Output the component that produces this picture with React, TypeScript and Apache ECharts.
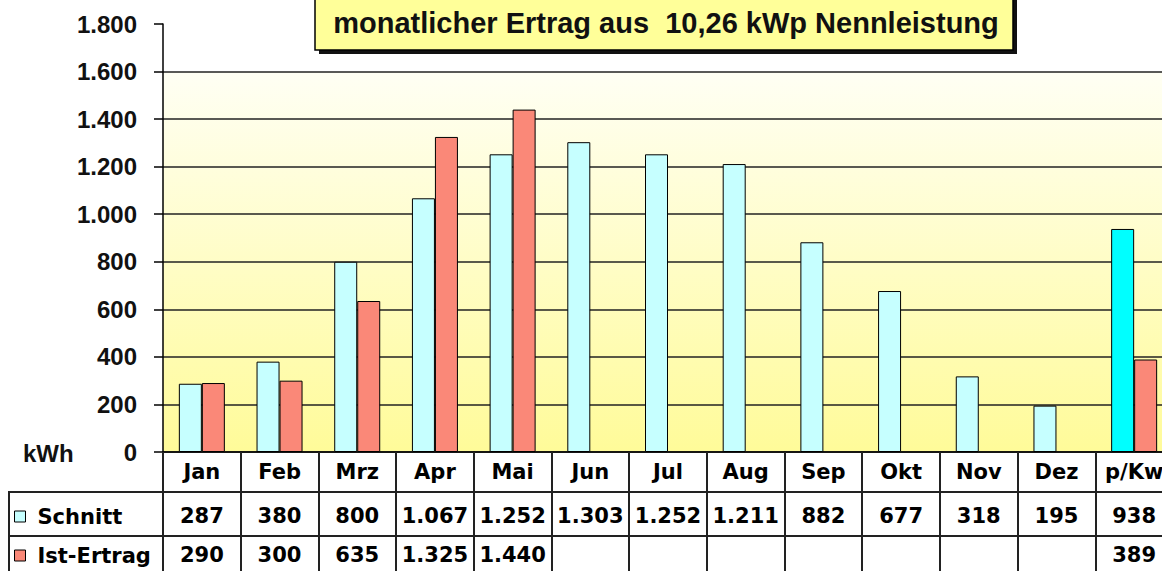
import React, { useEffect, useRef } from 'react';
import * as echarts from 'echarts';

const categories = ['Jan', 'Feb', 'Mrz', 'Apr', 'Mai', 'Jun', 'Jul', 'Aug', 'Sep', 'Okt', 'Nov', 'Dez', 'p/Kw'];
const schnitt: number[] = [287, 380, 800, 1067, 1252, 1303, 1252, 1211, 882, 677, 318, 195, 938];
const istErtrag: (number | null)[] = [290, 300, 635, 1325, 1440, null, null, null, null, null, null, null, 389];
const seriesNames = ['Schnitt', 'Ist-Ertrag'];
const highlightCategory = 'p/Kw';
const yMin = 0;
const yMax = 1800;
const yStep = 200;
const backgroundTop = 1600;
const titleText = 'monatlicher Ertrag aus  10,26 kWp Nennleistung';
const unitText = 'kWh';

const fmt = (v: number | null | undefined) =>
  v == null ? '' : String(v).replace(/\B(?=(\d{3})+(?!\d))/g, '.');

const tableFont = {
  fontFamily: 'DejaVu Sans',
  fontWeight: 'bold' as const,
  fontSize: 21,
  color: '#000',
};

export default function App() {
  const ref = useRef<HTMLDivElement>(null);
  useEffect(() => {
    if (!ref.current) return;
    const chart = echarts.init(ref.current, undefined, { renderer: 'svg' });
    const whiteFrac = (yMax - backgroundTop) / (yMax - yMin);
    const option: any = {
      animation: false,
      backgroundColor: '#fff',
      grid: {
        left: 163,
        right: -11,
        top: 24,
        bottom: 119,
        containLabel: false,
        outerBoundsMode: 'none',
        show: true,
        borderWidth: 0,
        backgroundColor: new echarts.graphic.LinearGradient(0, 0, 0, 1, [
          { offset: 0, color: '#ffffff' },
          { offset: whiteFrac, color: '#ffffff' },
          { offset: whiteFrac + 0.001, color: '#FFFFF4' },
          { offset: 1, color: '#FFFB99' },
        ]),
      },
      legend: {
        orient: 'vertical',
        left: 14,
        top: 506,
        padding: 0,
        itemGap: 18,
        icon: 'rect',
        itemWidth: 11,
        itemHeight: 11,
        itemStyle: { borderColor: '#000', borderWidth: 1 },
        textStyle: { ...tableFont, lineHeight: 21, padding: [0, 0, 0, 7] },
        data: seriesNames,
      },
      xAxis: [
        {
          type: 'category',
          position: 'bottom',
          data: categories,
          axisLine: { show: true, lineStyle: { color: '#000', width: 1.5 } },
          axisTick: { show: true, length: 119, lineStyle: { color: '#222', width: 2 } },
          axisLabel: { interval: 0, margin: 20, verticalAlign: 'middle', ...tableFont },
        },
        {
          type: 'category',
          position: 'bottom',
          offset: 0,
          data: categories,
          axisLine: { show: false },
          axisTick: { show: false },
          axisLabel: {
            interval: 0,
            margin: 64,
            verticalAlign: 'middle',
            ...tableFont,
            formatter: (_v: string, i: number) => fmt(schnitt[i]),
          },
        },
        {
          type: 'category',
          position: 'bottom',
          offset: 0,
          data: categories,
          axisLine: { show: false },
          axisTick: { show: false },
          axisLabel: {
            interval: 0,
            margin: 103,
            verticalAlign: 'middle',
            ...tableFont,
            formatter: (_v: string, i: number) => fmt(istErtrag[i]),
          },
        },
      ],
      yAxis: {
        type: 'value',
        min: yMin,
        max: yMax,
        interval: yStep,
        axisLine: { show: true, lineStyle: { color: '#000', width: 1.5 } },
        axisTick: { show: true, length: 9, lineStyle: { color: '#000', width: 1.5 } },
        axisLabel: {
          margin: 26,
          fontFamily: 'Liberation Sans',
          fontWeight: 'bold',
          fontSize: 24,
          color: '#111',
          formatter: (v: number) => fmt(v),
        },
        splitLine: { show: true, showMaxLine: false, lineStyle: { color: '#222', width: 1.5 } },
      },
      series: [
        {
          name: seriesNames[0],
          type: 'bar',
          barWidth: 23,
          barGap: '0%',
          itemStyle: { color: '#C6FFFF', borderColor: '#000', borderWidth: 1 },
          data: schnitt.map((v, i) =>
            categories[i] === highlightCategory ? { value: v, itemStyle: { color: '#00FFFF' } } : v
          ),
        },
        {
          name: seriesNames[1],
          type: 'bar',
          barWidth: 23,
          barGap: '0%',
          itemStyle: { color: '#FA8878', borderColor: '#000', borderWidth: 1 },
          data: istErtrag.map((v) => (v == null ? '-' : v)),
        },
      ],
      graphic: [
        {
          type: 'rect',
          shape: { x: 319, y: -6, width: 698, height: 60 },
          style: { fill: '#111' },
          silent: true,
        },
        {
          type: 'rect',
          shape: { x: 315, y: -10, width: 698, height: 60 },
          style: { fill: '#FFFF99', stroke: '#000', lineWidth: 1.5 },
          silent: true,
        },
        {
          type: 'text',
          x: 666,
          y: 23,
          style: {
            text: titleText,
            fontFamily: 'Liberation Sans',
            fontWeight: 'bold',
            fontSize: 29,
            fill: '#111',
            align: 'center',
            verticalAlign: 'middle',
          },
          silent: true,
        },
        {
          type: 'text',
          x: 23,
          y: 453,
          style: {
            text: unitText,
            fontFamily: 'Liberation Sans',
            fontWeight: 'bold',
            fontSize: 24,
            fill: '#111',
            align: 'left',
            verticalAlign: 'middle',
          },
          silent: true,
        },
        {
          type: 'line',
          shape: { x1: 8, y1: 492, x2: 1162, y2: 492 },
          style: { stroke: '#222', lineWidth: 2 },
          silent: true,
        },
        {
          type: 'line',
          shape: { x1: 8, y1: 536, x2: 1162, y2: 536 },
          style: { stroke: '#222', lineWidth: 2 },
          silent: true,
        },
        {
          type: 'line',
          shape: { x1: 9, y1: 492, x2: 9, y2: 571 },
          style: { stroke: '#222', lineWidth: 2 },
          silent: true,
        },
      ],
    };
    chart.setOption(option);
    return () => chart.dispose();
  }, []);
  return (
    <div
      ref={ref}
      style={{ position: 'absolute', left: 0, top: 0, width: 1162, height: 571 }}
    />
  );
}
